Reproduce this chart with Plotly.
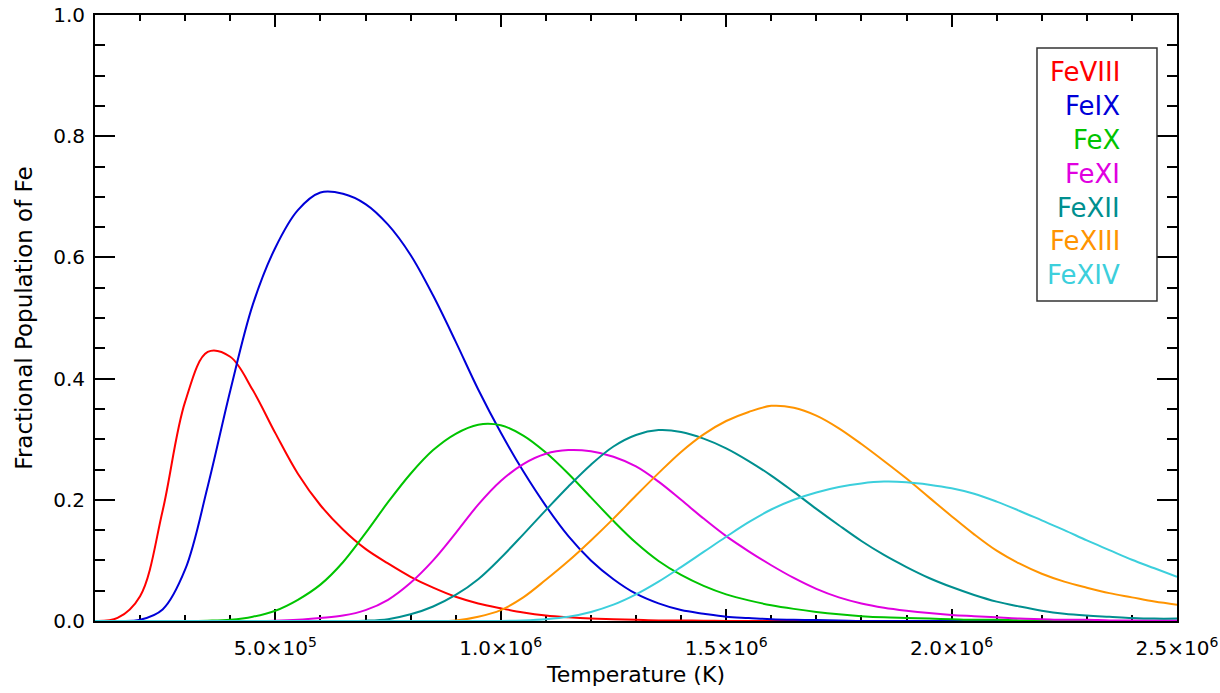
import plotly.graph_objects as go

temperature = [
    1.0e5, 1.5e5, 2.0e5, 2.5e5, 3.0e5, 3.5e5, 4.0e5, 4.5e5, 5.0e5, 5.5e5,
    6.0e5, 6.5e5, 7.0e5, 7.5e5, 8.0e5, 8.5e5, 9.0e5, 9.5e5,
    1.00e6, 1.05e6, 1.10e6, 1.15e6, 1.20e6, 1.25e6, 1.30e6, 1.35e6, 1.40e6, 1.45e6,
    1.50e6, 1.55e6, 1.60e6, 1.65e6, 1.70e6, 1.75e6, 1.80e6, 1.85e6, 1.90e6, 1.95e6,
    2.00e6, 2.05e6, 2.10e6, 2.15e6, 2.20e6, 2.25e6, 2.30e6, 2.35e6, 2.40e6, 2.45e6, 2.50e6,
]

fe_viii = [
    0.000, 0.005, 0.041, 0.182, 0.362, 0.444, 0.436, 0.381, 0.310, 0.243,
    0.191, 0.151, 0.119, 0.095, 0.073, 0.055, 0.040, 0.029,
    0.021, 0.014, 0.009, 0.006, 0.004, 0.003, 0.002, 0.001, 0.001, 0.0005,
    0, 0, 0, 0, 0, 0, 0, 0, 0, 0,
    0, 0, 0, 0, 0, 0, 0, 0, 0, 0, 0,
]

fe_ix = [
    0.000, 0.000, 0.002, 0.019, 0.085, 0.222, 0.380, 0.522, 0.616, 0.678,
    0.707, 0.705, 0.688, 0.654, 0.604, 0.537, 0.461, 0.382,
    0.311, 0.247, 0.190, 0.140, 0.100, 0.069, 0.045, 0.029, 0.018, 0.012,
    0.007, 0.005, 0.003, 0.002, 0.0015, 0.001, 0, 0, 0, 0,
    0, 0, 0, 0, 0, 0, 0, 0, 0, 0, 0,
]

fe_x = [
    0, 0, 0, 0, 0, 0.0005, 0.002, 0.007, 0.017, 0.035,
    0.060, 0.097, 0.145, 0.196, 0.243, 0.282, 0.309, 0.324,
    0.323, 0.306, 0.278, 0.243, 0.204, 0.165, 0.129, 0.099, 0.076, 0.058,
    0.044, 0.034, 0.026, 0.020, 0.015, 0.011, 0.008, 0.006, 0.005, 0.004,
    0.003, 0.002, 0.002, 0.001, 0.001, 0.001, 0.0005, 0, 0, 0, 0,
]

fe_xi = [
    0, 0, 0, 0, 0, 0, 0, 0, 0.0005, 0.002,
    0.005, 0.009, 0.018, 0.035, 0.063, 0.100, 0.145, 0.192,
    0.231, 0.259, 0.276, 0.282, 0.280, 0.271, 0.255, 0.230, 0.200, 0.169,
    0.140, 0.115, 0.092, 0.071, 0.053, 0.039, 0.029, 0.022, 0.017, 0.013,
    0.010, 0.008, 0.006, 0.004, 0.003, 0.002, 0.002, 0.001, 0.001, 0.001, 0.001,
]

fe_xii = [
    0, 0, 0, 0, 0, 0, 0, 0, 0, 0,
    0, 0.000, 0.0005, 0.003, 0.011, 0.024, 0.043, 0.069,
    0.104, 0.143, 0.183, 0.222, 0.258, 0.288, 0.307, 0.315, 0.312, 0.301,
    0.285, 0.264, 0.240, 0.213, 0.185, 0.158, 0.132, 0.109, 0.089, 0.071,
    0.056, 0.043, 0.032, 0.024, 0.017, 0.012, 0.009, 0.007, 0.005, 0.004, 0.004,
]

fe_xiii = [
    0, 0, 0, 0, 0, 0, 0, 0, 0, 0,
    0, 0, 0, 0, 0, 0, 0.001, 0.007,
    0.018, 0.039, 0.068, 0.099, 0.133, 0.169, 0.207, 0.244, 0.279, 0.308,
    0.330, 0.345, 0.355, 0.352, 0.339, 0.318, 0.292, 0.264, 0.235, 0.204,
    0.173, 0.143, 0.116, 0.095, 0.078, 0.065, 0.055, 0.046, 0.039, 0.032, 0.027,
]

fe_xiv = [
    0, 0, 0, 0, 0, 0, 0, 0, 0, 0,
    0, 0, 0, 0, 0, 0, 0, 0,
    0, 0.001, 0.003, 0.007, 0.015, 0.027, 0.044, 0.065, 0.089, 0.114,
    0.139, 0.163, 0.184, 0.200, 0.212, 0.221, 0.227, 0.230, 0.229, 0.225,
    0.219, 0.210, 0.197, 0.182, 0.166, 0.150, 0.133, 0.117, 0.101, 0.087, 0.073,
]

ion_names = ["FeVIII", "FeIX", "FeX", "FeXI", "FeXII", "FeXIII", "FeXIV"]
ion_values = [fe_viii, fe_ix, fe_x, fe_xi, fe_xii, fe_xiii, fe_xiv]
ion_colors = ["#ff0000", "#0000d8", "#00c400", "#e000e0", "#008f8f", "#ff9400", "#3ccfdc"]

x_tick_values = [5e5, 1e6, 1.5e6, 2e6, 2.5e6]
x_tick_labels = ["5.0×10<sup>5</sup>", "1.0×10<sup>6</sup>", "1.5×10<sup>6</sup>",
                 "2.0×10<sup>6</sup>", "2.5×10<sup>6</sup>"]

FONT = "DejaVu Sans"

fig = go.Figure()
for name, vals, col in zip(ion_names, ion_values, ion_colors):
    fig.add_trace(go.Scatter(
        x=temperature, y=vals, name=name, mode="lines",
        line=dict(color=col, width=2, shape="spline", smoothing=1.0),
        showlegend=False,
    ))

# legend drawn as coloured, right-aligned text in a box
leg_x_right = 0.949
leg_y_top = 0.9054
leg_step = 0.0558
for i, (name, col) in enumerate(zip(ion_names, ion_colors)):
    fig.add_annotation(
        xref="paper", yref="paper", x=leg_x_right, y=leg_y_top - i * leg_step,
        xanchor="right", yanchor="middle", text=name, showarrow=False,
        font=dict(family=FONT, size=26, color=col),
    )
fig.add_shape(type="rect", xref="paper", yref="paper",
              x0=0.8706, x1=0.9815, y0=0.528, y1=0.9455,
              line=dict(color="#333333", width=1.5), fillcolor="rgba(0,0,0,0)")

fig.update_xaxes(
    range=[1e5, 2.5e6], tickmode="array", tickvals=x_tick_values, ticktext=x_tick_labels,
    ticks="inside", ticklen=12, tickwidth=2, tickcolor="black",
    showline=True, linewidth=2, linecolor="black", mirror="ticks",
    showgrid=False, zeroline=False, layer="below traces",
    ticklabeloverflow="allow", automargin=False, ticklabelstandoff=8,
    minor=dict(tickmode="linear", tick0=0, dtick=1e5, ticks="inside", ticklen=6,
               tickwidth=2, tickcolor="black", showgrid=False),
    tickfont=dict(family=FONT, size=20, color="black"),
    title=dict(text="Temperature (K)", font=dict(family=FONT, size=22, color="black"),
               standoff=8),
)
fig.update_yaxes(
    range=[0, 1.0], tickmode="linear", tick0=0, dtick=0.2, tickformat=".1f",
    ticks="inside", ticklen=20, tickwidth=2, tickcolor="black",
    showline=True, linewidth=2, linecolor="black", mirror="ticks",
    showgrid=False, zeroline=False, layer="below traces",
    automargin=False, ticklabelstandoff=4,
    minor=dict(tickmode="linear", tick0=0, dtick=0.05, ticks="inside", ticklen=10,
               tickwidth=2, tickcolor="black", showgrid=False),
    tickfont=dict(family=FONT, size=20, color="black"),
    title=dict(text="Fractional Population of Fe",
               font=dict(family=FONT, size=23, color="black"), standoff=14),
)

fig.update_layout(
    width=1220, height=693,
    margin=dict(l=95, r=43, t=15, b=72),
    paper_bgcolor="white", plot_bgcolor="white",
)

fig.write_html("out.html")
